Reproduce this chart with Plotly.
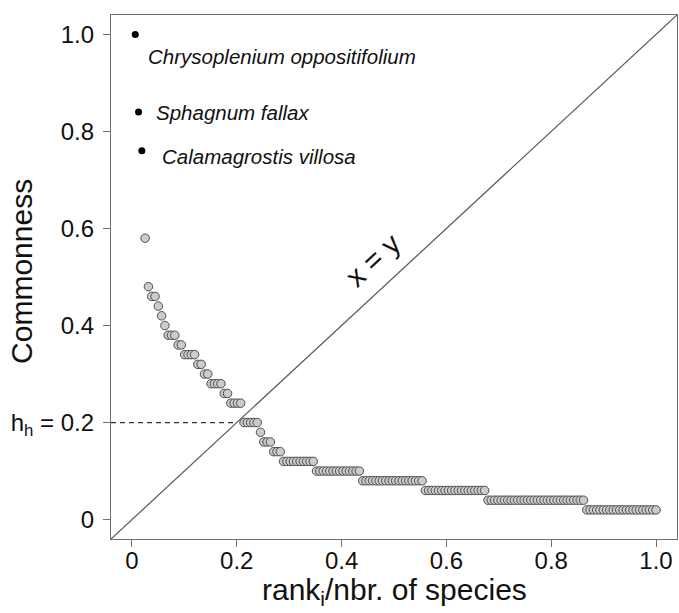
import numpy as np
import plotly.graph_objects as go

# ---- data ----
named_species = ["Chrysoplenium oppositifolium", "Sphagnum fallax", "Calamagrostis villosa"]
named_commonness = [1.0, 0.84, 0.76]

# commonness levels of the remaining species (in rank order) and how many species share each level
levels = [0.58, 0.48, 0.46, 0.44, 0.42, 0.40, 0.38, 0.36, 0.34, 0.32, 0.30, 0.28,
          0.26, 0.24, 0.20, 0.18, 0.16, 0.14, 0.12, 0.10, 0.08, 0.06, 0.04, 0.02]
counts = [1, 1, 2, 1, 1, 1, 3, 2, 4, 2, 2, 4,
          2, 4, 5, 1, 3, 3, 10, 14, 19, 19, 30, 22]

h_h = 0.2
tick_vals = [0, 0.2, 0.4, 0.6, 0.8, 1.0]
x_tick_text = ["0", "0.2", "0.4", "0.6", "0.8", "1.0"]
y_tick_text = ["0", "h<sub>h</sub> = 0.2", "0.4", "0.6", "0.8", "1.0"]
axis_range = [-0.04, 1.04]

# ---- build ranks ----
other_commonness = np.repeat(levels, counts)
n_species = len(named_commonness) + len(other_commonness)
ranks = np.arange(1, n_species + 1) / n_species
x_named = ranks[:len(named_commonness)]
x_other = ranks[len(named_commonness):]

FONT = "Liberation Sans, Arial, Helvetica, sans-serif"

fig = go.Figure()

# x = y reference line
fig.add_trace(go.Scatter(x=axis_range, y=axis_range, mode="lines",
                         line=dict(color="#555555", width=1.2),
                         hoverinfo="skip", showlegend=False))
# dashed h_h line
fig.add_trace(go.Scatter(x=[axis_range[0], h_h], y=[h_h, h_h], mode="lines",
                         line=dict(color="#333333", width=1.2, dash="5px,4px"),
                         hoverinfo="skip", showlegend=False))

fig.add_trace(go.Scatter(x=x_other, y=other_commonness, mode="markers",
                         marker=dict(size=8.5, color="#cbcbcb",
                                     line=dict(color="#4d4d4d", width=1)),
                         showlegend=False))
fig.add_trace(go.Scatter(x=x_named, y=named_commonness, mode="markers",
                         marker=dict(size=7, color="black"),
                         showlegend=False))

label_offsets = [0.021, 0.03, 0.034]
label_dy = [-0.045, 0.0, -0.012]
for name, xv, yv, dx, dy in zip(named_species, x_named, named_commonness, label_offsets, label_dy):
    fig.add_annotation(x=xv + dx, y=yv + dy, text="<i>" + name + "</i>", showarrow=False,
                       xanchor="left", yanchor="middle",
                       font=dict(family=FONT, size=20.5, color="#111111"))

fig.add_annotation(x=0.46, y=0.535, text="x = y", showarrow=False, textangle=-42.8,
                   xanchor="center", yanchor="middle",
                   font=dict(family=FONT, size=29, color="#111111"))

# axis titles
fig.add_annotation(xref="paper", yref="paper", x=0.5, y=-0.101,
                   text="rank<sub>i</sub>/nbr. of species", showarrow=False,
                   xanchor="center", yanchor="middle",
                   font=dict(family=FONT, size=30, color="#111111"))
fig.add_annotation(xref="paper", yref="paper", x=-0.157, y=0.51,
                   text="Commonness", showarrow=False, textangle=-90,
                   xanchor="center", yanchor="middle",
                   font=dict(family=FONT, size=30, color="#111111"))

axis_common = dict(range=axis_range, showgrid=False, zeroline=False, automargin=False,
                   showline=True, mirror=True, linecolor="#707070", linewidth=1.2,
                   ticks="outside", ticklen=7, tickcolor="#707070", tickwidth=1.2,
                   tickvals=tick_vals,
                   tickfont=dict(family=FONT, size=24, color="#111111"))

fig.update_layout(
    width=679, height=613,
    margin=dict(l=111, r=2, t=15, b=74),
    paper_bgcolor="white", plot_bgcolor="white",
    xaxis=dict(**axis_common, ticktext=x_tick_text, ticklabelstandoff=-7),
    yaxis=dict(**axis_common, ticktext=y_tick_text, ticklabelstandoff=4),
    showlegend=False,
)

fig.write_html("out.html", config={"displayModeBar": False},
               post_script="document.body.style.margin='0';")
